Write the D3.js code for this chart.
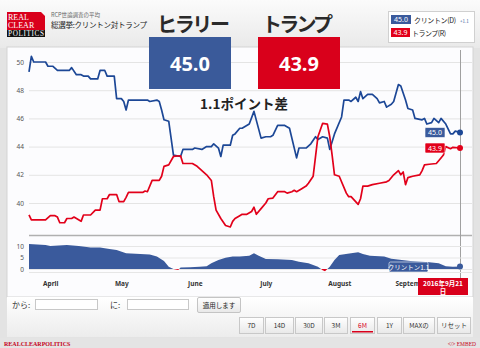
<!DOCTYPE html>
<html><head><meta charset="utf-8">
<script src="https://cdn.jsdelivr.net/npm/d3@7"></script>
<style>
body{margin:0;background:#fff;}
svg{display:block;font-family:"Noto Sans CJK JP","Noto Sans",sans-serif;}
</style></head><body>
<svg id="c" width="480" height="348"></svg>
<script>
// ---------- DATA ----------
const clintonDates = ["03-23","03-24","03-25","03-30","03-31","04-02","04-04","04-09","04-10","04-12","04-14","04-15","04-17","04-18","04-21","04-22","04-24","04-25","04-28","04-29","05-01","05-02","05-03","05-04","05-12","05-13","05-16","05-17","05-18","05-19","05-21","05-23","05-26","05-27","05-31","06-01","06-04","06-06","06-08","06-09","06-11","06-12","06-13","06-16","06-17","06-18","06-20","06-21","06-24","06-26","06-29","07-01","07-03","07-04","07-06","07-09","07-11","07-14","07-15","07-18","07-20","07-22","07-23","07-25","07-27","07-28","07-30","08-02","08-03","08-05","08-06","08-08","08-09","08-10","08-11","08-13","08-15","08-17","08-18","08-20","08-21","08-23","08-24","08-26","08-27","08-29","08-30","09-01","09-02","09-05","09-06","09-07","09-09","09-10","09-12","09-13","09-15","09-17","09-18","09-19","09-21"];
const clintonValues = [49.3,50.4,50.0,50.0,49.7,49.7,49.4,49.4,49.6,49.1,49.1,49.0,49.0,48.8,48.8,49.4,49.4,49.0,49.0,47.4,47.4,47.2,46.6,47.3,47.3,47.2,47.3,47.2,46.6,45.9,45.8,43.4,43.3,43.8,43.8,43.9,43.8,44.0,44.0,44.2,43.9,43.3,44.1,44.1,44.8,44.9,45.3,45.3,45.6,46.5,44.6,44.7,44.7,44.8,45.5,45.5,45.3,43.2,43.9,43.9,44.2,44.7,44.5,44.7,44.6,43.8,44.9,46.1,47.3,47.3,47.2,47.5,47.2,47.9,47.4,47.7,47.7,47.4,47.1,47.2,46.8,47.0,47.2,48.4,48.3,47.3,46.7,46.6,46.0,45.9,46.0,45.6,45.7,46.0,45.7,46.0,45.6,44.9,44.9,45.1,45.0];

const trumpDates = ["03-23","03-24","03-30","04-01","04-03","04-04","04-05","04-07","04-08","04-10","04-11","04-14","04-15","04-18","04-20","04-22","04-23","04-25","04-26","04-29","04-30","05-02","05-03","05-04","05-10","05-11","05-12","05-14","05-17","05-18","05-19","05-21","05-23","05-26","05-27","05-31","06-02","06-04","06-06","06-08","06-09","06-10","06-12","06-14","06-16","06-17","06-18","06-20","06-21","06-23","06-25","06-26","06-27","06-29","07-01","07-02","07-04","07-06","07-09","07-10","07-12","07-13","07-14","07-16","07-18","07-19","07-21","07-22","07-23","07-25","07-27","07-28","07-29","07-30","08-01","08-04","08-05","08-06","08-09","08-10","08-11","08-13","08-15","08-18","08-21","08-22","08-24","08-26","08-27","08-28","08-29","08-30","09-01","09-04","09-05","09-06","09-08","09-11","09-12","09-14","09-15","09-17","09-18","09-21"];
const trumpValues = [39.15,38.8,38.8,39.1,39.1,39.0,38.6,38.6,38.9,38.9,39.0,38.7,39.15,39.15,39.5,39.5,40.3,40.3,40.6,40.6,40.1,40.1,40.4,40.75,40.75,40.85,40.8,41.6,41.6,41.9,42.6,42.7,43.3,43.35,42.8,42.8,42.6,42.3,42.0,41.6,40.45,39.5,38.9,38.4,38.3,38.7,38.9,39.1,39.2,39.2,39.4,39.7,39.2,39.6,40.0,40.3,40.35,40.8,40.8,40.7,40.8,40.9,40.8,41.0,41.2,41.4,41.9,43.3,44.7,45.65,45.6,44.7,43.4,42.0,41.9,40.7,40.45,40.45,39.9,40.3,41.2,41.2,41.3,41.4,41.5,41.6,42.0,42.3,42.0,42.2,41.3,41.8,41.9,42.0,42.3,42.7,42.75,42.8,43.0,43.4,44.0,43.85,43.95,43.9];

const spreadDates = ["03-23","03-30","04-01","04-08","04-13","04-18","04-22","04-26","04-29","05-03","05-09","05-13","05-16","05-19","05-21","05-23","05-25","05-26","05-30","06-03","06-06","06-08","06-11","06-14","06-17","06-20","06-24","06-26","06-28","07-01","07-06","07-12","07-15","07-19","07-23","07-25","07-26","07-28","07-30","08-01","08-06","08-09","08-11","08-14","08-20","08-23","08-31","09-08","09-12","09-15","09-18","09-21"];
const spreadValues = [10.9,10.4,10.0,10.4,10.0,9.4,9.4,8.7,8.3,6.8,6.5,6.3,5.4,3.5,1.0,0.0,-0.4,0.6,0.8,1.0,1.2,2.5,3.9,4.9,5.4,5.4,5.8,6.8,5.8,4.3,4.2,3.9,3.2,2.5,1.0,-0.5,-1.0,1.0,3.9,6.1,6.8,7.3,6.5,5.8,5.4,4.5,3.5,2.9,2.5,1.2,1.0,1.1];

const yTicks = [40,42,44,46,48,50];
const navTicks = [0,5,10];
const rangeButtons = ["7D","14D","30D","3M","6M","1Y","MAXの","リセット"];
const activeButton = "6M";
const clintonName = "クリントン(D)", trumpName = "トランプ(R)";
const clintonLast = "45.0", trumpLast = "43.9", spreadText = "+1.1";

// ---------- SETUP ----------
const parse = d3.timeParse("%Y-%m-%d");
const toPts = (ds, vs) => ds.map((d,i)=>({date:parse("2016-"+d), v:vs[i]}));
const clinton = toPts(clintonDates, clintonValues);
const trump = toPts(trumpDates, trumpValues);
const spread = toPts(spreadDates, spreadValues);

const svg = d3.select("#c");
const BLUE = "#1c4796", RED = "#e2001a", NAVBLUE = "#3a5a9c";

const x = d3.scaleTime().domain([parse("2016-03-23"), parse("2016-09-21")]).range([29, 460]);
const y = d3.scaleLinear().domain([40, 50]).range([203, 62]);
const yNav = d3.scaleLinear().domain([0, 10]).range([269, 246]);

const defs = svg.append("defs");
const hg = defs.append("linearGradient").attr("id","hg").attr("x1",0).attr("y1",0).attr("x2",0).attr("y2",1);
hg.append("stop").attr("offset","0").attr("stop-color","#fbfbfb");
hg.append("stop").attr("offset","1").attr("stop-color","#e9e9e9");
const cg = defs.append("linearGradient").attr("id","cg").attr("x1",0).attr("y1",0).attr("x2",0).attr("y2",1);
cg.append("stop").attr("offset","0").attr("stop-color","#ffffff");
cg.append("stop").attr("offset","1").attr("stop-color","#ececec");
const bg = defs.append("linearGradient").attr("id","bg").attr("x1",0).attr("y1",0).attr("x2",0).attr("y2",1);
bg.append("stop").attr("offset","0").attr("stop-color","#ffffff");
bg.append("stop").attr("offset","1").attr("stop-color","#e8e8e8");
defs.append("clipPath").attr("id","mclip").append("rect").attr("x",0).attr("y",270).attr("width",418).attr("height",30);

// backgrounds
svg.append("rect").attr("width",480).attr("height",348).attr("fill","#e3e3e3");
svg.append("rect").attr("width",480).attr("height",48).attr("fill","url(#hg)");
svg.append("rect").attr("x",7).attr("y",47).attr("width",466).attr("height",250).attr("fill","#fcfcfe").attr("stroke","#d4d4d4");
svg.append("rect").attr("x",7).attr("y",297).attr("width",466).attr("height",40).attr("fill","url(#cg)");
svg.append("rect").attr("x",0).attr("y",338).attr("width",480).attr("height",10).attr("fill","#e4e4e4");

// ---------- HEADER ----------
const logo = svg.append("g");
logo.append("path").attr("d","M7,12 H41 L45,16 V30 H7 Z").attr("fill","#d9001b");
logo.append("rect").attr("x",7).attr("y",30).attr("width",38).attr("height",7).attr("fill","#111");
logo.append("text").attr("x",8).attr("y",20).text("REAL").attr("font-family","Liberation Serif").attr("font-size",8).attr("fill","#fff");
logo.append("text").attr("x",8).attr("y",28).text("CLEAR").attr("font-family","Liberation Serif").attr("font-size",8).attr("fill","#fff");
logo.append("text").attr("x",8).attr("y",36).text("POLITICS").attr("font-family","Liberation Serif").attr("font-size",7.2).attr("fill","#fff").attr("textLength",36);

svg.append("text").attr("x",51).attr("y",17).text("RCP世論調査の平均").attr("font-size",5.5).attr("fill","#666");
svg.append("text").attr("x",51).attr("y",28).text("総選挙:クリントン対トランプ").attr("font-size",7.5).attr("fill","#222").attr("textLength",96);

svg.append("text").attr("x",157).attr("y",32).text("ヒラリー").attr("font-size",20).attr("font-weight","bold").attr("fill","#2a2a2a").attr("textLength",73);
svg.append("text").attr("x",262).attr("y",32).text("トランプ").attr("font-size",20).attr("font-weight","bold").attr("fill","#2a2a2a").attr("textLength",71);

// legend box
svg.append("rect").attr("x",388.5).attr("y",11.5).attr("width",86).attr("height",31).attr("fill","#fff").attr("stroke","#d0d0d0");
svg.append("rect").attr("x",391).attr("y",15).attr("width",20).attr("height",9).attr("fill",NAVBLUE);
svg.append("text").attr("x",401).attr("y",22.3).attr("text-anchor","middle").text(clintonLast).attr("font-size",7).attr("fill","#fff").attr("font-family","Noto Sans");
svg.append("text").attr("x",414).attr("y",22.5).text(clintonName).attr("font-size",7).attr("fill","#222").attr("textLength",42);
svg.append("text").attr("x",460).attr("y",22.5).text(spreadText).attr("font-size",4.5).attr("fill","#3a5a9c");
svg.append("rect").attr("x",391).attr("y",28).attr("width",19).attr("height",9).attr("fill",RED);
svg.append("text").attr("x",400.5).attr("y",35.3).attr("text-anchor","middle").text(trumpLast).attr("font-size",7).attr("fill","#fff").attr("font-family","Noto Sans");
svg.append("text").attr("x",412).attr("y",35.5).text(trumpName).attr("font-size",7).attr("fill","#222").attr("textLength",34);

// ---------- MAIN PLOT ----------
const grid = svg.append("g");
grid.selectAll("line").data(yTicks).join("line")
  .attr("x1",29).attr("x2",472).attr("y1",d=>y(d)+0.5).attr("y2",d=>y(d)+0.5)
  .attr("stroke","#e4e4e4");
const yAxis = svg.append("g").attr("transform","translate(26,0)")
  .call(d3.axisLeft(y).tickValues(yTicks).tickSize(0).tickPadding(2));
yAxis.select(".domain").remove();
yAxis.selectAll("text").attr("font-size",6.5).attr("fill","#555").attr("font-family","Noto Sans");
svg.append("line").attr("x1",29).attr("x2",472).attr("y1",235.5).attr("y2",235.5).attr("stroke","#b0b0b0").attr("stroke-width",1.5);

const line = d3.line().x(d=>x(d.date)).y(d=>y(d.v));
svg.append("path").datum(clinton).attr("d",line).attr("fill","none").attr("stroke",BLUE).attr("stroke-width",1.7).attr("stroke-linejoin","round");
svg.append("path").datum(trump).attr("d",line).attr("fill","none").attr("stroke",RED).attr("stroke-width",1.7).attr("stroke-linejoin","round");

// crosshair
svg.append("line").attr("x1",460.5).attr("x2",460.5).attr("y1",50).attr("y2",290).attr("stroke","#a0a0a0").attr("stroke-width",1);

const cl = clinton[clinton.length-1], tl = trump[trump.length-1];
svg.append("circle").attr("cx",x(cl.date)).attr("cy",y(cl.v)).attr("r",3).attr("fill",BLUE);
svg.append("circle").attr("cx",x(tl.date)).attr("cy",y(tl.v)).attr("r",3).attr("fill",RED);

// last value labels
function tag(cx, cy, txt, fill){
  svg.append("rect").attr("x",cx-10).attr("y",cy-5).attr("width",20).attr("height",10).attr("rx",1).attr("fill",fill).attr("stroke","#fff").attr("stroke-width",0.6);
  svg.append("text").attr("x",cx).attr("y",cy+2.6).attr("text-anchor","middle").text(txt).attr("font-size",7).attr("fill","#fff").attr("font-family","Noto Sans");
}
tag(435, y(cl.v), clintonLast, NAVBLUE);
tag(435, y(tl.v), trumpLast, RED);

// big boxes
svg.append("rect").attr("x",149).attr("y",37).attr("width",82).attr("height",52).attr("fill","#3a5a9a");
svg.append("text").attr("x",190).attr("y",71).attr("text-anchor","middle").text(clintonLast).attr("font-size",20).attr("font-weight","bold").attr("fill","#fff").attr("font-family","Open Sans");
svg.append("rect").attr("x",258).attr("y",37).attr("width",82).attr("height",52).attr("fill","#d9001b");
svg.append("text").attr("x",299).attr("y",71).attr("text-anchor","middle").text(trumpLast).attr("font-size",20).attr("font-weight","bold").attr("fill","#fff").attr("font-family","Open Sans");
svg.append("text").attr("x",244).attr("y",109).attr("text-anchor","middle").text("1.1ポイント差").attr("font-size",13.5).attr("font-weight","bold").attr("fill","#222");

// ---------- NAVIGATOR ----------
svg.selectAll(".ng").data(navTicks).join("line").attr("class","ng")
  .attr("x1",29).attr("x2",472).attr("y1",d=>yNav(d)+0.5).attr("y2",d=>yNav(d)+0.5).attr("stroke","#e6e6e6");
const nAxis = svg.append("g").attr("transform","translate(26,0)")
  .call(d3.axisLeft(yNav).tickValues(navTicks).tickSize(0).tickPadding(2));
nAxis.select(".domain").remove();
nAxis.selectAll("text").attr("font-size",6.5).attr("fill","#555").attr("font-family","Noto Sans");

defs.append("clipPath").attr("id","pos").append("rect").attr("x",0).attr("y",0).attr("width",480).attr("height",yNav(0));
defs.append("clipPath").attr("id","neg").append("rect").attr("x",0).attr("y",yNav(0)).attr("width",480).attr("height",40);
const area = d3.area().x(d=>x(d.date)).y0(yNav(0)).y1(d=>yNav(d.v));
svg.append("path").datum(spread).attr("d",area).attr("fill",NAVBLUE).attr("clip-path","url(#pos)");
svg.append("path").datum(spread).attr("d",area).attr("fill",RED).attr("clip-path","url(#neg)");
svg.append("line").attr("x1",29).attr("x2",472).attr("y1",272.5).attr("y2",272.5).attr("stroke","#e6e6e6");
const sl = spread[spread.length-1];
svg.append("circle").attr("cx",x(sl.date)).attr("cy",yNav(sl.v)).attr("r",3).attr("fill",NAVBLUE);
svg.append("rect").attr("x",389).attr("y",262).attr("width",39).attr("height",10).attr("rx",1.5).attr("fill",NAVBLUE).attr("stroke","#fff").attr("stroke-width",0.6);
svg.append("text").attr("x",408.5).attr("y",269.6).attr("text-anchor","middle").text("クリントン1.1").attr("font-size",6.5).attr("fill","#fff");

// month axis (clipped under the date flag, as in the reference)
const xAxis = svg.append("g").attr("clip-path","url(#mclip)").append("g").attr("transform","translate(0,276)")
  .call(d3.axisBottom(x).ticks(d3.timeMonth.every(1)).tickFormat(d3.timeFormat("%B")).tickSize(0).tickPadding(5));
xAxis.select(".domain").remove();
xAxis.selectAll("text").attr("font-size",6.5).attr("fill","#333").attr("font-weight","bold").attr("font-family","Noto Sans");

// date box
svg.append("rect").attr("x",418).attr("y",278).attr("width",50).attr("height",17).attr("fill","#d9001b");
svg.append("text").attr("x",443).attr("y",285.5).attr("text-anchor","middle").text("2016年9月21").attr("font-size",6.5).attr("font-weight","bold").attr("fill","#fff");
svg.append("text").attr("x",443).attr("y",293.5).attr("text-anchor","middle").text("日").attr("font-size",6.5).attr("font-weight","bold").attr("fill","#fff");

// ---------- CONTROLS ----------
svg.append("text").attr("x",12).attr("y",308).text("から:").attr("font-size",8).attr("fill","#333");
svg.append("rect").attr("x",35.5).attr("y",299.5).attr("width",62).attr("height",10).attr("fill","#fff").attr("stroke","#c8c8c8");
svg.append("text").attr("x",110).attr("y",308).text("に:").attr("font-size",8).attr("fill","#333");
svg.append("rect").attr("x",127.5).attr("y",299.5).attr("width",61).attr("height",10).attr("fill","#fff").attr("stroke","#c8c8c8");
svg.append("rect").attr("x",197.5).attr("y",297.5).attr("width",43).attr("height",15).attr("rx",1.5).attr("fill","url(#bg)").attr("stroke","#c4c4c4");
svg.append("text").attr("x",219).attr("y",307.5).attr("text-anchor","middle").text("適用します").attr("font-size",6.5).attr("fill","#222");

const btnX = [239,265,295,324,350,377,403,437];
const btnW = [24,28,27,23,24,24,31,33];
rangeButtons.forEach((b,i)=>{
  svg.append("rect").attr("x",btnX[i]+0.5).attr("y",317.5).attr("width",btnW[i]).attr("height",16).attr("fill","url(#bg)").attr("stroke","#c8c8c8");
  svg.append("text").attr("x",btnX[i]+btnW[i]/2+0.5).attr("y",328).attr("text-anchor","middle").text(b).attr("font-size",6.5)
    .attr("fill", b===activeButton ? "#d9001b" : "#333");
  if(b===activeButton) svg.append("rect").attr("x",btnX[i]+2).attr("y",331).attr("width",btnW[i]-3).attr("height",1.5).attr("fill","#d9001b");
});

// footer
svg.append("text").attr("x",4).attr("y",345.5).text("REALCLEARPOLITICS").attr("font-size",6).attr("font-weight","bold").attr("font-family","Liberation Serif").attr("fill","#c4001a");
svg.append("text").attr("x",476).attr("y",345.5).attr("text-anchor","end").text("</> EMBED").attr("font-size",5.5).attr("font-family","Liberation Serif").attr("fill","#c4001a");
</script>
</body></html>
